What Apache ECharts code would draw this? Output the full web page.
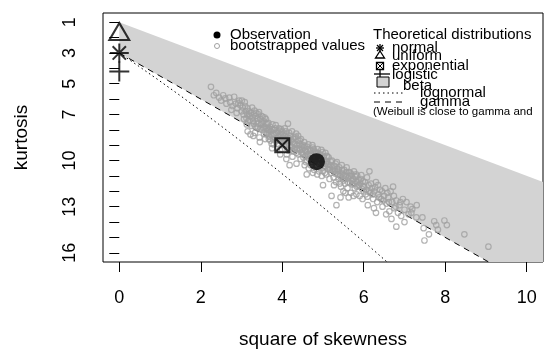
<!DOCTYPE html>
<html>
<head>
<meta charset="utf-8">
<script src="https://cdn.jsdelivr.net/npm/echarts@6/dist/echarts.min.js"></script>
<style>
  html, body { margin: 0; padding: 0; background: #fff; }
  #chart { width: 544px; height: 355px; }
</style>
</head>
<body>
<div id="chart"></div>
<script>
// Cullen and Frey graph: square of skewness vs kurtosis
const xTicks = [0, 2, 4, 6, 8, 10];
const yTicks = [1, 2, 3, 4, 5, 6, 7, 8, 9, 10, 11, 12, 13, 14, 15, 16];
const yLabels = [1, 3, 5, 7, 10, 13, 16];

const observation = [4.84, 10.07];
const normalPoint = [0, 3];
const uniformPoint = [0, 1.8];
const exponentialPoint = [4, 9];
const logisticPoint = [0, 4.2];

const betaRegion = [[0, 1], [11, 12], [11, 19.5], [0, 3]];
const gammaLine = [[0, 3], [11, 19.5]];
const lognormalLine = [[0, 3], [0.465, 3.84], [0.961, 4.76], [1.488, 5.76], [2.048, 6.85],
  [2.641, 8.04], [3.267, 9.32], [3.928, 10.71], [4.624, 12.21], [5.356, 13.83],
  [6.125, 15.56], [6.604, 16.67]];

const bootValues = [
  [2.25,5.2],[2.32,5.75],[2.38,5.6],[2.45,5.9],[2.5,6.1],[2.55,5.75],[2.6,5.95],[2.63,6.3],[2.7,5.9],
  [2.72,6.2],[2.78,6.45],[2.82,5.85],[2.86,6.3],[2.9,6.6],[2.94,6.1],[2.97,6.4],[3.0,6.8],[2.75,6.7],
  [3.03,6.55],[3.05,7.0],[3.08,6.2],[3.1,6.8],[3.12,7.25],[3.15,6.6],[3.18,7.0],[3.2,7.4],[3.22,8.3],
  [3.24,6.9],[3.27,7.2],[3.3,7.6],[3.32,6.75],[3.35,7.1],[3.37,7.45],[3.4,7.85],[3.42,7.0],[3.44,8.5],
  [3.46,7.3],[3.48,7.65],[3.5,8.0],[3.52,7.15],[3.54,7.45],[3.56,7.8],[3.58,8.6],[3.6,7.3],[3.33,8.2],
  [3.13,7.65],[3.55,8.25],[3.25,7.75],
  [2.88,6.9],[2.92,6.25],[3.01,6.1],[3.06,7.3],[3.09,6.45],[3.14,7.0],[3.16,7.45],[3.19,6.8],[3.21,7.1],
  [3.26,6.55],[3.28,7.45],[3.31,7.0],[3.34,7.8],[3.36,6.9],[3.39,7.25],[3.41,7.6],[3.43,6.85],[3.47,7.9],
  [3.49,7.1],[3.51,7.55],[3.53,7.85],[3.57,7.2],[3.59,7.6],[3.29,8.4],[3.45,8.8],[3.15,8.1],
  [3.62,7.9],[3.64,8.2],[3.66,7.55],[3.68,8.45],[3.7,7.8],[3.72,8.1],[3.74,8.9],[3.76,7.65],[3.78,8.3],
  [3.8,8.0],[3.82,8.6],[3.84,7.7],[3.86,8.2],[3.88,8.9],[3.9,8.45],[3.92,7.9],[3.94,9.3],[3.96,8.3],
  [3.98,8.7],[4.0,8.1],[4.02,8.5],[4.04,9.0],[4.06,7.9],[4.08,8.6],[4.1,8.3],[4.12,8.95],[4.14,7.6],
  [4.16,8.7],[4.18,10.3],[4.2,8.4],[4.22,9.1],[4.24,8.1],[4.26,8.8],[4.28,9.4],[4.3,8.5],[4.32,8.95],
  [4.34,8.25],[4.36,9.25],[4.38,8.7],[4.4,9.6],[3.71,8.7],[3.87,8.55],[3.99,9.25],[4.05,8.4],[4.11,9.6],
  [4.19,9.0],[4.27,8.6],[4.35,9.5],[3.93,8.05],[4.15,9.35],[3.79,8.95],[4.25,9.75],[4.03,8.8],[4.31,9.2],
  [3.68,8.05],[4.35,10.2],
  [3.61,8.3],[3.63,7.6],[3.65,8.0],[3.67,8.6],[3.69,7.95],[3.73,8.35],[3.75,7.95],[3.77,8.6],[3.81,8.25],
  [3.83,7.9],[3.85,8.75],[3.89,8.1],[3.91,8.7],[3.95,8.5],[3.97,7.95],[4.01,8.3],[4.07,8.75],[4.09,8.1],
  [4.13,8.5],[4.17,8.2],[4.21,8.65],[4.23,9.35],[4.29,8.9],[4.33,8.45],[4.37,9.0],[4.39,8.4],[3.75,9.2],
  [3.95,9.6],[4.1,9.9],
  [4.42,8.9],[4.44,9.3],[4.46,8.6],[4.48,9.5],[4.5,9.0],[4.52,9.8],[4.54,8.8],[4.56,9.35],[4.58,10.1],
  [4.6,9.1],[4.62,9.6],[4.64,8.95],[4.66,9.9],[4.68,9.3],[4.7,10.3],[4.72,9.55],[4.74,9.0],[4.76,9.85],
  [4.78,10.6],[4.8,9.4],[4.82,10.0],[4.84,9.7],[4.86,10.9],[4.88,9.5],[4.9,10.2],[4.92,9.85],[4.94,10.5],
  [4.96,9.3],[4.98,10.1],[5.0,10.7],[5.02,9.75],[5.04,10.35],[5.06,9.5],[5.08,10.9],[5.1,10.05],
  [5.12,10.55],[5.14,9.8],[5.16,11.2],[5.18,10.3],[5.2,10.8],[4.45,9.9],[4.53,9.15],[4.61,10.0],
  [4.69,9.7],[4.77,9.25],[4.85,10.4],[4.93,9.6],[5.01,10.2],[5.09,9.7],[5.17,10.6],[4.57,9.7],[4.73,10.1],
  [4.89,9.9],[5.05,10.8],[4.65,10.5],[4.97,11.0],[4.81,9.75],[5.13,10.25],[4.49,9.25],[5.03,9.95],
  [4.6,10.9],[5.0,11.6],
  [4.41,9.2],[4.43,8.7],[4.47,9.1],[4.51,9.6],[4.55,9.05],[4.59,9.45],[4.63,9.25],[4.67,9.6],[4.71,9.35],
  [4.75,9.15],[4.79,9.9],[4.83,9.5],[4.87,9.25],[4.91,9.7],[4.95,9.95],[4.99,9.45],[5.07,10.2],[5.11,9.75],
  [5.15,10.45],[5.19,10.05],[4.55,10.3],[4.75,10.8],[4.9,10.7],
  [5.22,10.0],[5.24,10.6],[5.26,11.1],[5.28,10.35],[5.3,10.85],[5.32,11.4],[5.34,10.1],[5.36,10.7],
  [5.38,11.2],[5.4,10.45],[5.42,11.0],[5.44,11.7],[5.46,10.3],[5.48,10.85],[5.5,11.3],[5.52,10.6],
  [5.54,11.5],[5.56,11.0],[5.58,10.45],[5.6,11.8],[5.62,11.15],[5.64,10.75],[5.66,11.45],[5.68,12.1],
  [5.7,10.9],[5.72,11.55],[5.74,11.2],[5.76,10.7],[5.78,11.8],[5.8,11.35],[5.82,12.2],[5.84,11.0],
  [5.86,11.65],[5.88,11.25],[5.9,12.3],[5.92,11.5],[5.94,10.95],[5.96,11.85],[5.98,11.35],[6.0,12.0],
  [5.27,11.6],[5.41,11.5],[5.55,12.1],[5.69,11.0],[5.83,11.7],[5.97,12.5],[5.35,10.55],[5.63,12.4],
  [5.21,12.3],[5.33,12.9],[5.43,12.4],
  [5.23,10.4],[5.29,10.65],[5.31,10.2],[5.37,10.9],[5.39,10.6],[5.45,11.1],[5.47,10.6],[5.51,11.0],
  [5.53,11.2],[5.57,10.75],[5.61,11.4],[5.65,11.0],[5.67,10.8],[5.71,11.3],[5.75,11.5],[5.79,11.05],
  [5.81,10.9],[5.85,11.4],[5.89,11.6],[5.93,11.2],[5.99,11.7],[5.5,12.0],[5.75,12.3],
  [6.03,11.4],[6.06,11.9],[6.09,12.35],[6.12,11.6],[6.14,10.7],[6.16,12.1],[6.2,11.8],[6.23,12.5],
  [6.26,12.0],[6.3,11.4],[6.33,12.7],[6.36,12.2],[6.4,11.9],[6.43,12.5],[6.46,13.0],[6.5,12.3],
  [6.53,11.8],[6.56,12.8],[6.6,12.4],[6.63,13.3],[6.66,12.0],[6.7,12.7],[6.72,11.7],[6.75,13.1],
  [6.8,12.6],[6.8,14.3],[6.84,13.4],[6.88,12.9],[6.92,13.6],[6.96,12.5],[7.0,13.2],[6.25,13.1],
  [6.55,13.5],[6.1,12.9],[6.68,13.8],
  [6.01,11.7],[6.05,12.2],[6.08,11.1],[6.13,12.0],[6.18,11.5],[6.22,12.2],[6.28,11.75],[6.35,11.6],
  [6.38,12.4],[6.45,12.0],[6.48,12.6],[6.58,12.1],[6.62,12.7],[6.74,12.3],[6.78,13.0],[6.9,12.7],[6.3,13.4],
  [7.05,12.7],[7.1,13.5],[7.15,13.0],[7.19,13.16],[7.17,13.4],[7.29,13.7],[7.44,13.7],[7.47,14.4],
  [7.49,15.2],[7.73,13.95],[7.78,14.2],[7.82,14.5],[7.98,13.9],[8.04,14.2],[8.47,14.8],[9.06,15.6],
  [7.3,12.9],[7.6,14.8],[7.0,14.0]
];

const font = '"Liberation Sans", Arial, sans-serif';
const asteriskPath = 'path://M5,0V10M0,5H10M1.5,1.5L8.5,8.5M8.5,1.5L1.5,8.5';
const plusPath = 'path://M5,0V10M0,5H10';
const boxXPath = 'path://M0,0H10V10H0ZM0,0L10,10M10,0L0,10';

let myChart = echarts.init(document.getElementById('chart'));

function markerSeries(point, symbol, size, offset) {
    return {
        type: 'scatter',
        data: [point],
        symbol: symbol,
        symbolSize: size,
        symbolOffset: offset || [0, 0],
        z: 5,
        silent: true,
        itemStyle: { color: 'rgba(0,0,0,0)', borderColor: '#000', borderWidth: 2 }
    };
}

const legendX = 373;
const option = {
    animation: false,
    grid: {
        left: 103, top: 13, right: 1, bottom: 93,
        show: true, borderColor: '#000', borderWidth: 1, backgroundColor: 'transparent'
    },
    xAxis: {
        type: 'value', min: -0.4, max: 10.4,
        name: 'square of skewness', nameLocation: 'middle', nameGap: 68,
        nameTextStyle: { fontFamily: font, fontSize: 19, color: '#000' },
        axisLine: { show: false },
        axisTick: { show: true, customValues: xTicks, length: 10, lineStyle: { color: '#000' } },
        axisLabel: { customValues: xTicks, margin: 27, fontFamily: font, fontSize: 18, color: '#000' },
        splitLine: { show: false }
    },
    yAxis: {
        type: 'value', min: 0.4, max: 16.6, inverse: true,
        name: 'kurtosis', nameLocation: 'middle', nameGap: 72, nameRotate: 90,
        nameTextStyle: { fontFamily: font, fontSize: 19, color: '#000' },
        axisLine: { show: false },
        axisTick: { show: true, customValues: yTicks, length: 10, lineStyle: { color: '#000' } },
        axisLabel: { customValues: yLabels, rotate: 90, margin: 24, fontFamily: font, fontSize: 18, color: '#000' },
        splitLine: { show: false }
    },
    series: [
        {
            type: 'custom',
            data: betaRegion,
            clip: true,
            silent: true,
            z: 1,
            renderItem: function (params, api) {
                if (params.dataIndex !== 0) return null;
                return {
                    type: 'polygon',
                    shape: { points: betaRegion.map(p => api.coord(p)) },
                    style: { fill: '#d3d3d3' }
                };
            }
        },
        {
            type: 'line', data: gammaLine, symbol: 'none', z: 2, silent: true,
            lineStyle: { color: '#000', width: 1, type: [6, 5] }
        },
        {
            type: 'line', data: lognormalLine, symbol: 'none', z: 2, silent: true,
            lineStyle: { color: '#000', width: 1, type: [1.5, 3] }
        },
        {
            type: 'scatter', data: bootValues, symbol: 'circle', symbolSize: 5.5, z: 3, silent: true,
            itemStyle: { color: 'rgba(0,0,0,0)', borderColor: '#a0a0a0', borderWidth: 1.2 }
        },
        markerSeries(uniformPoint, 'triangle', [20, 17], [0, -3]),
        markerSeries(normalPoint, asteriskPath, 19),
        markerSeries(logisticPoint, plusPath, 20),
        markerSeries(exponentialPoint, boxXPath, 14),
        {
            type: 'scatter', data: [observation], symbol: 'circle', symbolSize: 17, z: 6, silent: true,
            itemStyle: { color: '#000' }
        }
    ],
    graphic: [
        { type: 'circle', shape: { cx: 217, cy: 35, r: 3.5 }, style: { fill: '#000' }, z: 10 },
        { type: 'circle', shape: { cx: 217, cy: 46, r: 2.5 }, style: { fill: 'none', stroke: '#a0a0a0', lineWidth: 1 }, z: 10 },
        { type: 'text', x: 230, y: 35, style: { text: 'Observation', font: '15px ' + font, fill: '#000', verticalAlign: 'middle' }, z: 10 },
        { type: 'text', x: 230, y: 46, style: { text: 'bootstrapped values', font: '15px ' + font, fill: '#000', verticalAlign: 'middle' }, z: 10 },
        { type: 'text', x: legendX, y: 35, style: { text: 'Theoretical distributions', font: '15px ' + font, fill: '#000', verticalAlign: 'middle' }, z: 10 },
        // normal (asterisk)
        { type: 'polyline', shape: { points: [[380, 44], [380, 52]] }, style: { stroke: '#000', lineWidth: 1.3 }, z: 10 },
        { type: 'polyline', shape: { points: [[376, 48], [384, 48]] }, style: { stroke: '#000', lineWidth: 1.3 }, z: 10 },
        { type: 'polyline', shape: { points: [[377, 45], [383, 51]] }, style: { stroke: '#000', lineWidth: 1.3 }, z: 10 },
        { type: 'polyline', shape: { points: [[383, 45], [377, 51]] }, style: { stroke: '#000', lineWidth: 1.3 }, z: 10 },
        { type: 'text', x: 392, y: 48, style: { text: 'normal', font: '15px ' + font, fill: '#000', verticalAlign: 'middle' }, z: 10 },
        // uniform (triangle)
        { type: 'polygon', shape: { points: [[380, 51], [384.5, 58], [375.5, 58]] }, style: { fill: 'none', stroke: '#000', lineWidth: 1.3 }, z: 10 },
        { type: 'text', x: 392, y: 56, style: { text: 'uniform', font: '15px ' + font, fill: '#000', verticalAlign: 'middle' }, z: 10 },
        // exponential (box with X)
        { type: 'rect', shape: { x: 376.5, y: 62.5, width: 7, height: 7 }, style: { fill: 'none', stroke: '#000', lineWidth: 1.3 }, z: 10 },
        { type: 'polyline', shape: { points: [[376.5, 62.5], [383.5, 69.5]] }, style: { stroke: '#000', lineWidth: 1 }, z: 10 },
        { type: 'polyline', shape: { points: [[383.5, 62.5], [376.5, 69.5]] }, style: { stroke: '#000', lineWidth: 1 }, z: 10 },
        { type: 'text', x: 392, y: 66, style: { text: 'exponential', font: '15px ' + font, fill: '#000', verticalAlign: 'middle' }, z: 10 },
        // logistic (plus)
        { type: 'polyline', shape: { points: [[380, 69], [380, 79]] }, style: { stroke: '#000', lineWidth: 1.3 }, z: 10 },
        { type: 'polyline', shape: { points: [[374, 74], [390, 74]] }, style: { stroke: '#000', lineWidth: 1.3 }, z: 10 },
        { type: 'text', x: 392, y: 75, style: { text: 'logistic', font: '15px ' + font, fill: '#000', verticalAlign: 'middle' }, z: 10 },
        // beta (grey box)
        { type: 'rect', shape: { x: 377, y: 77, width: 12, height: 10 }, style: { fill: '#d3d3d3', stroke: '#000', lineWidth: 1 }, z: 11 },
        { type: 'text', x: 403, y: 86, style: { text: 'beta', font: '15px ' + font, fill: '#000', verticalAlign: 'middle' }, z: 10 },
        // lognormal (dotted)
        { type: 'polyline', shape: { points: [[374, 93], [403, 93]] }, style: { stroke: '#000', lineWidth: 1, lineDash: [1.5, 3] }, z: 10 },
        { type: 'text', x: 420, y: 93, style: { text: 'lognormal', font: '15px ' + font, fill: '#000', verticalAlign: 'middle' }, z: 10 },
        // gamma (dashed)
        { type: 'polyline', shape: { points: [[374, 102], [403, 102]] }, style: { stroke: '#000', lineWidth: 1, lineDash: [6, 5] }, z: 10 },
        { type: 'text', x: 420, y: 102, style: { text: 'gamma', font: '15px ' + font, fill: '#000', verticalAlign: 'middle' }, z: 10 },
        { type: 'text', x: legendX, y: 112, style: { text: '(Weibull is close to gamma and', font: '11.5px ' + font, fill: '#000', verticalAlign: 'middle' }, z: 12 }
    ]
};
myChart.setOption(option);
</script>
</body>
</html>
